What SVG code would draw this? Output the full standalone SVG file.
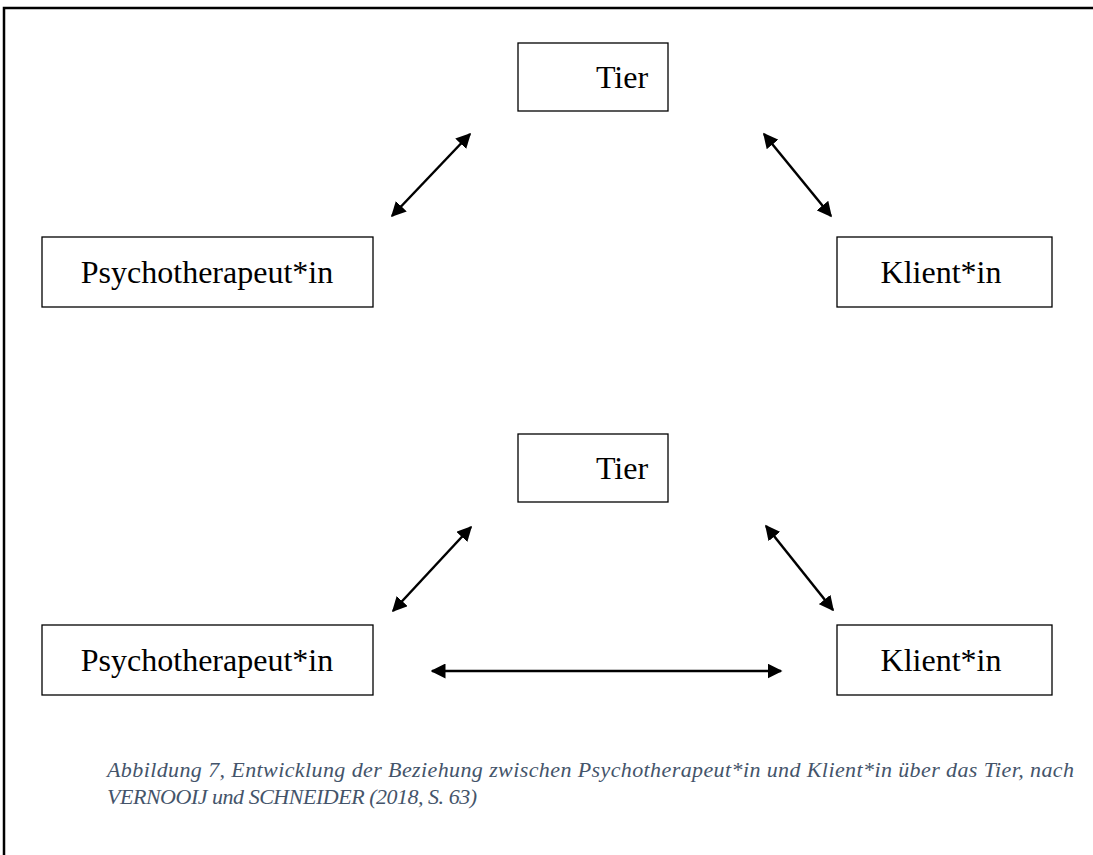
<svg xmlns="http://www.w3.org/2000/svg" width="1093" height="855" viewBox="0 0 1093 855">
<defs>
<style>
.box{fill:#fff;stroke:#000;stroke-width:1.3}
.lbl{font-family:"Liberation Serif","Times New Roman",serif;font-size:32px;fill:#000;text-anchor:middle}
.cap{font-family:"Liberation Serif","Times New Roman",serif;font-style:italic;font-size:22px;fill:#44546A}
.con{stroke:#000;stroke-width:2.5;fill:none;marker-start:url(#ah);marker-end:url(#ah)}
</style>
<marker id="ah" viewBox="0 0 10 10" refX="9" refY="5" markerWidth="6" markerHeight="6" orient="auto-start-reverse" markerUnits="strokeWidth">
<path d="M0,0 L10,5 L0,10 z" fill="#000"/>
</marker>
</defs>
<rect width="1093" height="855" fill="#fff"/>
<path d="M4,855 V8 H1093" fill="none" stroke="#000" stroke-width="2.5"/>
<g id="tier1"><rect class="box" x="518" y="43" width="150" height="68"/><text class="lbl" x="622" y="88">Tier</text></g>
<g id="psy1"><rect class="box" x="42" y="237" width="331" height="70"/><text class="lbl" x="207" y="283">Psychotherapeut*in</text></g>
<g id="kli1"><rect class="box" x="837" y="237" width="215" height="70"/><text class="lbl" x="941" y="283">Klient*in</text></g>
<g id="tier2"><rect class="box" x="518" y="434" width="150" height="68"/><text class="lbl" x="622" y="479">Tier</text></g>
<g id="psy2"><rect class="box" x="42" y="625" width="331" height="70"/><text class="lbl" x="207" y="671">Psychotherapeut*in</text></g>
<g id="kli2"><rect class="box" x="837" y="625" width="215" height="70"/><text class="lbl" x="941" y="671">Klient*in</text></g>
<g id="connectors">
<line class="con" x1="392" y1="216" x2="470" y2="134"/>
<line class="con" x1="764" y1="134" x2="831" y2="216"/>
<line class="con" x1="393" y1="611" x2="471" y2="527"/>
<line class="con" x1="766" y1="526" x2="833" y2="610"/>
<line class="con" x1="432" y1="671" x2="781" y2="671"/>
</g>
<g id="caption">
<text class="cap" x="107" y="777" textLength="967" lengthAdjust="spacing">Abbildung 7, Entwicklung der Beziehung zwischen Psychotherapeut*in und Klient*in über das Tier, nach</text>
<text class="cap" x="107" y="804" textLength="370" lengthAdjust="spacing">VERNOOIJ und SCHNEIDER (2018, S. 63)</text>
</g>
</svg>
